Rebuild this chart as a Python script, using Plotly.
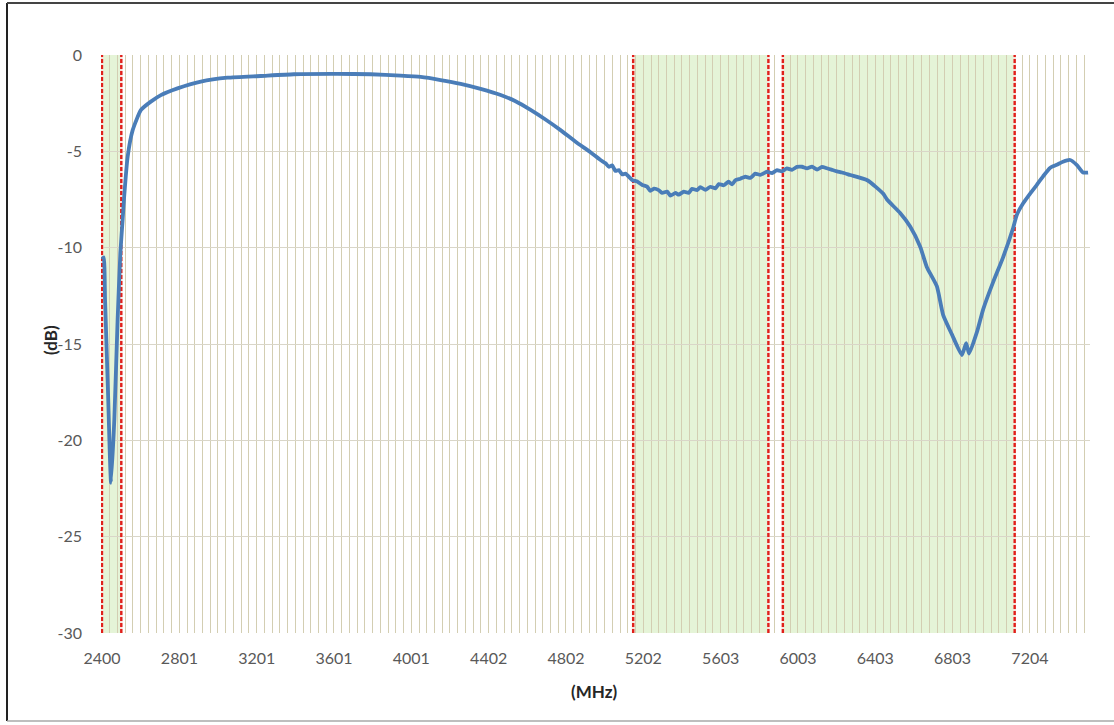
import plotly.graph_objects as go

# ---- data ----
freq_mhz = [2400, 2409, 2416, 2431, 2447, 2464, 2481, 2495, 2507, 2515, 2533, 2559, 2602,
            2653, 2705, 2791, 2912, 3050, 3222, 3393, 3617, 3791, 3946, 4050, 4153, 4257,
            4360, 4464, 4541, 4619, 4696, 4774, 4852, 4929,
            4981, 5007, 5024, 5041, 5058, 5076, 5093, 5110, 5145, 5171, 5197, 5222, 5239,
            5257, 5282, 5300, 5326, 5343, 5369, 5386, 5412, 5437, 5455, 5481, 5498, 5524,
            5550, 5576, 5593, 5619, 5644, 5662, 5679, 5705, 5731, 5757, 5782, 5808, 5843,
            5869, 5895, 5920, 5946, 5972, 5998, 6024, 6050, 6076, 6102, 6127, 6153, 6179,
            6205, 6231, 6274,
            6362, 6445, 6464, 6532, 6584, 6636, 6670, 6722, 6755, 6800, 6852, 6874, 6889,
            6929, 6962, 7013, 7065, 7117, 7136, 7169, 7205, 7239, 7272, 7308, 7343, 7375,
            7412, 7446, 7479, 7505]
s_db = [-10.6, -10.5, -12.7, -17.4, -22.2, -18.9, -13.75, -10.3, -8.56, -7.35, -5.28, -3.9,
        -2.85, -2.42, -2.08, -1.73, -1.38, -1.18, -1.09, -1.0, -0.98, -1.0, -1.07, -1.14,
        -1.3, -1.5, -1.76, -2.08, -2.4, -2.85, -3.35, -3.9, -4.5, -5.05,
        -5.45, -5.62, -5.80, -5.73, -6.02, -5.97, -6.20, -6.16, -6.49, -6.57, -6.75, -6.83,
        -7.05, -6.94, -7.01, -7.16, -7.09, -7.30, -7.16, -7.25, -7.09, -7.16, -6.95, -7.01,
        -6.86, -7.00, -6.84, -6.92, -6.70, -6.76, -6.58, -6.72, -6.50, -6.42, -6.32, -6.38,
        -6.16, -6.22, -6.06, -6.13, -5.98, -6.04, -5.89, -5.96, -5.81, -5.80, -5.88, -5.80,
        -5.95, -5.81, -5.88, -5.96, -6.04, -6.10, -6.23,
        -6.5, -7.2, -7.5, -8.2, -8.9, -9.95, -11.0, -12.0, -13.5, -14.5, -15.57, -14.95,
        -15.5, -14.4, -13.2, -11.8, -10.5, -8.98, -8.3, -7.7, -7.2, -6.75, -6.3, -5.86,
        -5.7, -5.54, -5.45, -5.7, -6.1, -6.1]

x_tick_vals = [2400, 2801, 3201, 3601, 4001, 4402, 4802, 5202, 5603, 6003, 6403, 6803, 7204]
x_tick_text = [str(v) for v in x_tick_vals]
y_tick_vals = [0, -5, -10, -15, -20, -25, -30]
y_tick_text = ["0", "-5", "-10", "-15", "-20", "-25", "-30"]

bands = [(2400, 2500), (5150, 5850), (5925, 7125)]
band_edges = [2400, 2500, 5150, 5850, 5925, 7125]
Y_RANGE = [-30, 0]

X_RANGE = [2395, 7515]
GRID_STEP = (7204 - 2400) / 120.0

fig = go.Figure()
# band edge markers (dashed red) drawn as traces so they sit above the grid
for e in band_edges:
    fig.add_trace(go.Scatter(x=[e, e], y=Y_RANGE, mode="lines",
                             line=dict(color="#f7e2dc", width=2.6),
                             hoverinfo="skip", showlegend=False))
    fig.add_trace(go.Scatter(x=[e, e], y=Y_RANGE, mode="lines",
                             line=dict(color="#e0201a", width=2.4, dash="4px,2px"),
                             hoverinfo="skip", showlegend=False))

fig.add_trace(go.Scatter(x=freq_mhz, y=s_db, mode="lines",
                         line=dict(color="#4a7db8", width=3.8, shape="spline", smoothing=0.5),
                         hoverinfo="x+y", showlegend=False))

shapes = []
for a, b in bands:
    shapes.append(dict(type="rect", xref="x", yref="paper", x0=a, x1=b, y0=0, y1=1,
                       fillcolor="rgba(150,210,95,0.25)", line=dict(width=0), layer="between"))

# plot area: x 101..1090, y 55..633 (px); chart-area border drawn in paper units
PL, PR, PT, PB = 101, 1090, 55, 633
def px(xp):
    return (xp - PL) / (PR - PL)
def py(yp):
    return (PB - yp) / (PB - PT)

shapes.append(dict(type="line", xref="paper", yref="paper", x0=px(7), x1=px(7),
                   y0=py(721), y1=py(3), line=dict(color="#222222", width=2)))
shapes.append(dict(type="line", xref="paper", yref="paper", x0=px(7), x1=px(1120),
                   y0=py(3), y1=py(3), line=dict(color="#444444", width=2)))
shapes.append(dict(type="line", xref="paper", yref="paper", x0=px(7), x1=px(1120),
                   y0=py(721), y1=py(721), line=dict(color="#a8a8a8", width=1.5)))

font_family = "Lato, 'Open Sans', sans-serif"

fig.update_layout(
    width=1114, height=725,
    margin=dict(l=PL, r=1114 - PR, t=PT, b=725 - PB),
    paper_bgcolor="white", plot_bgcolor="white",
    shapes=shapes,
    xaxis=dict(range=X_RANGE, tickmode="array", tickvals=x_tick_vals, ticktext=x_tick_text,
               showgrid=True, gridcolor="#d3ceb2", gridwidth=1.4,
               minor=dict(tick0=2400, dtick=GRID_STEP, showgrid=True,
                          gridcolor="#d3ceb2", gridwidth=1.4),
               zeroline=False, showline=False, ticks="",
               ticklabelstandoff=14,
               tickfont=dict(family=font_family, size=16, color="#595959")),
    yaxis=dict(range=Y_RANGE, tickmode="array", tickvals=y_tick_vals, ticktext=y_tick_text,
               showgrid=True, gridcolor="#d9d6c8", gridwidth=1,
               zeroline=False, showline=False, ticks="",
               ticklabelstandoff=18,
               tickfont=dict(family=font_family, size=16, color="#595959")),
    annotations=[
        dict(text="<b>(MHz)</b>", xref="paper", yref="paper", x=px(594), y=py(692),
             showarrow=False, font=dict(family=font_family, size=17, color="#262626"),
             xanchor="center", yanchor="middle"),
        dict(text="<b>(dB)</b>", xref="paper", yref="paper", x=px(50), y=py(340),
             textangle=-90, showarrow=False,
             font=dict(family=font_family, size=17, color="#262626"),
             xanchor="center", yanchor="middle"),
    ],
)

fig.write_html("out.html", config={"displayModeBar": False},
               post_script="document.body.style.margin='0px';")
